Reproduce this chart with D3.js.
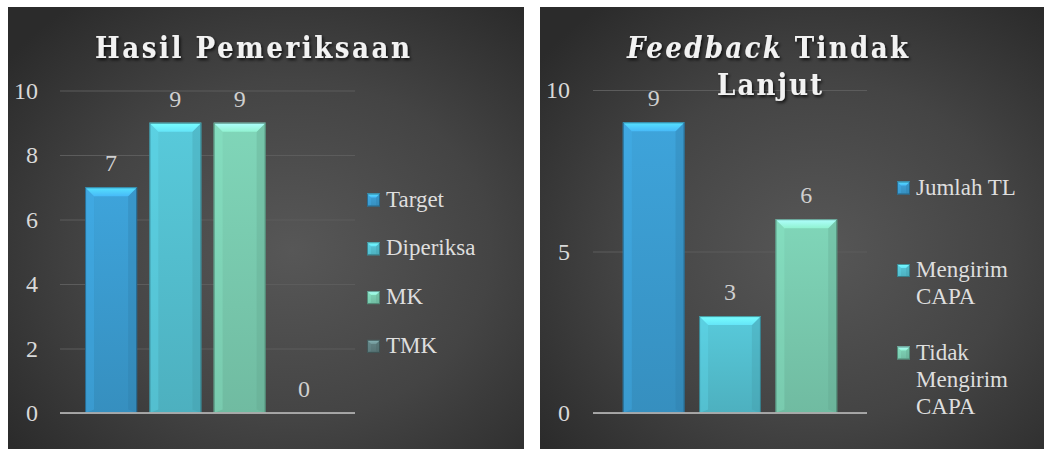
<!DOCTYPE html>
<html><head><meta charset="utf-8">
<script src="https://cdn.jsdelivr.net/npm/d3@7"></script>
<style>
body{margin:0;background:#fff}
svg{display:block;font-family:"Liberation Serif","Times New Roman",serif}
</style>
</head><body>
<svg id="c" width="1051" height="449"></svg>
<script>
// ---- data ----
const leftTitleLines = [[{t:"Hasil Pemeriksaan", i:false}]];
const leftSeries = ["Target", "Diperiksa", "MK", "TMK"];
const leftValues = [7, 9, 9, 0];
const leftTicks = [0, 2, 4, 6, 8, 10];
const leftColors = ["#3a99cc", "#52bccc", "#77c7ac", "#5c7b7c"];

const rightTitleLines = [[{t:"Feedback", i:true}, {t:" Tindak", i:false}], [{t:"Lanjut", i:false}]];
const rightSeries = ["Jumlah TL", "Mengirim CAPA", "Tidak Mengirim CAPA"];
const rightLegendLines = [["Jumlah TL"], ["Mengirim", "CAPA"], ["Tidak", "Mengirim", "CAPA"]];
const rightValues = [9, 3, 6];
const rightTicks = [0, 5, 10];
const rightColors = ["#3a99cc", "#52bccc", "#77c7ac"];

const svg = d3.select("#c");
const defs = svg.append("defs");

const bg = defs.append("radialGradient").attr("id", "bg")
  .attr("cx", 0.55).attr("cy", 0.55).attr("r", 0.7);
bg.append("stop").attr("offset", 0).attr("stop-color", "#575757");
bg.append("stop").attr("offset", 0.55).attr("stop-color", "#444444");
bg.append("stop").attr("offset", 1).attr("stop-color", "#2b2b2b");

const sh = defs.append("filter").attr("id", "tsh").attr("x", -0.1).attr("y", -0.3).attr("width", 1.2).attr("height", 1.6);
sh.append("feDropShadow").attr("dx", 1.5).attr("dy", 2).attr("stdDeviation", 1.4)
  .attr("flood-color", "#000").attr("flood-opacity", 0.75);

let gradId = 0;
function vGrad(c1, c2) {
  const id = "g" + (gradId++);
  const g = defs.append("linearGradient").attr("id", id).attr("x1", 0).attr("y1", 0).attr("x2", 0).attr("y2", 1);
  g.append("stop").attr("offset", 0).attr("stop-color", c1);
  g.append("stop").attr("offset", 1).attr("stop-color", c2);
  return "url(#" + id + ")";
}

function bevelBox(g, x, y, w, h, color, b) {
  if (h <= 0) return;
  const c = d3.color(color);
  b = Math.min(b, h / 2, w / 2);
  g.append("rect").attr("x", x).attr("y", y).attr("width", w).attr("height", h)
    .attr("fill", vGrad(c.brighter(0.2).formatHex(), c.darker(0.18).formatHex()));
  g.append("path").attr("d", `M${x},${y}L${x+b},${y+b}L${x+b},${y+h-b*0.4}L${x},${y+h}Z`)
    .attr("fill", c.brighter(0.5).formatHex()).attr("opacity", 0.3);
  g.append("path").attr("d", `M${x+w},${y}L${x+w-b},${y+b}L${x+w-b},${y+h-b*0.4}L${x+w},${y+h}Z`)
    .attr("fill", c.darker(0.6).formatHex()).attr("opacity", 0.3);
  g.append("path").attr("d", `M${x},${y}L${x+w},${y}L${x+w-b},${y+b}L${x+b},${y+b}Z`)
    .attr("fill", vGrad(c.brighter(1.1).formatHex(), c.brighter(0.55).formatHex()));
  g.append("rect").attr("x", x + 0.5).attr("y", y + 0.5).attr("width", w - 1).attr("height", h - 1)
    .attr("fill", "none").attr("stroke", c.darker(1.6).formatHex()).attr("stroke-opacity", 0.7).attr("stroke-width", 1);
}

function drawTitle(lines, boxes, baselines) {
  lines.forEach((parts, li) => {
    const t = svg.append("text").style("font-size", "29px").style("font-weight", "bold")
      .style("font-family", "'DejaVu Serif Condensed', 'DejaVu Serif', serif")
      .style("font-stretch", "condensed")
      .attr("fill", "#f2f2f2").attr("filter", "url(#tsh)")
      .attr("x", boxes[li][0]).attr("y", baselines[li]);
    parts.forEach(p => t.append("tspan").style("font-style", p.i ? "italic" : "normal").text(p.t));
    const n = parts.map(p => p.t).join("").length;
    const w0 = t.node().getComputedTextLength();
    const ls = Math.max(0, (boxes[li][1] - boxes[li][0] - w0) / (n - 1));
    t.style("letter-spacing", ls + "px");
  });
}

function drawPanel(cfg) {
  const P = cfg.panel;
  svg.append("rect").attr("x", P.x).attr("y", P.y).attr("width", P.w).attr("height", P.h).attr("fill", "url(#bg)");

  const x = d3.scaleBand().domain(cfg.series).range([cfg.x0, cfg.x1]).paddingInner(0.19).paddingOuter(0.39);
  const y = d3.scaleLinear().domain([0, 10]).range([cfg.y0, cfg.y1]);

  const ax = svg.append("g").attr("transform", `translate(${cfg.x0},0)`)
    .call(d3.axisLeft(y).tickValues(cfg.ticks).tickSize(-(cfg.x1 - cfg.x0)).tickPadding(cfg.x0 - cfg.tickRight).tickFormat(d3.format("d")));
  ax.select(".domain").remove();
  ax.attr("font-family", null).attr("font-size", null);
  ax.selectAll(".tick line").attr("stroke", "#5c5c5c").attr("stroke-width", 1);
  ax.selectAll(".tick text").attr("fill", "#d9d9d9").style("font-size", "24px")
    .style("font-family", "'Liberation Serif', serif").attr("dy", "0.33em");

  const bars = svg.append("g");
  cfg.series.forEach((s, i) => {
    const v = cfg.values[i];
    bevelBox(bars, x(s), y(v), x.bandwidth(), y(0) - y(v), cfg.colors[i], 9);
  });

  svg.append("line").attr("x1", cfg.x0).attr("x2", cfg.x1).attr("y1", y(0)).attr("y2", y(0))
    .attr("stroke", "#b4b4b4").attr("stroke-opacity", 0.85).attr("stroke-width", 2);

  svg.append("g").selectAll("text").data(cfg.series).join("text")
    .attr("x", s => x(s) + x.bandwidth() / 2)
    .attr("y", (s, i) => y(cfg.values[i]) - 16)
    .attr("text-anchor", "middle").style("font-size", "24px").attr("fill", "#d0d0d0")
    .text((s, i) => cfg.values[i]);

  const L = cfg.legend;
  cfg.legendLines.forEach((lines, i) => {
    const c = L.firstCenter + L.step * i;
    const firstBase = c - (lines.length - 1) * 27 / 2 + 6.5;
    const g = svg.append("g");
    bevelBox(g, L.x, firstBase - 13, 13, 13, cfg.colors[i], 4);
    const t = svg.append("text").style("font-size", "23px").attr("fill", "#dedede");
    lines.forEach((ln, k) => t.append("tspan").attr("x", L.x + 19).attr("y", firstBase + k * 27).text(ln));
  });

  drawTitle(cfg.title, cfg.titleBoxes, cfg.titleBase);
}

drawPanel({
  panel: {x: 8, y: 7, w: 516, h: 442},
  x0: 60, x1: 355, y0: 413, y1: 90.5, tickRight: 38,
  series: leftSeries, values: leftValues, ticks: leftTicks, colors: leftColors,
  legendLines: leftSeries.map(s => [s]),
  legend: {x: 367, firstCenter: 200, step: 48.8},
  title: leftTitleLines, titleBoxes: [[95, 410]], titleBase: [58]
});

drawPanel({
  panel: {x: 540, y: 7, w: 504, h: 442},
  x0: 593, x1: 867, y0: 413, y1: 90, tickRight: 570,
  series: rightSeries, values: rightValues, ticks: rightTicks, colors: rightColors,
  legendLines: rightLegendLines,
  legend: {x: 897, firstCenter: 188, step: 96},
  title: rightTitleLines, titleBoxes: [[627, 908], [717, 822]], titleBase: [58, 95]
});
</script>
</body></html>
